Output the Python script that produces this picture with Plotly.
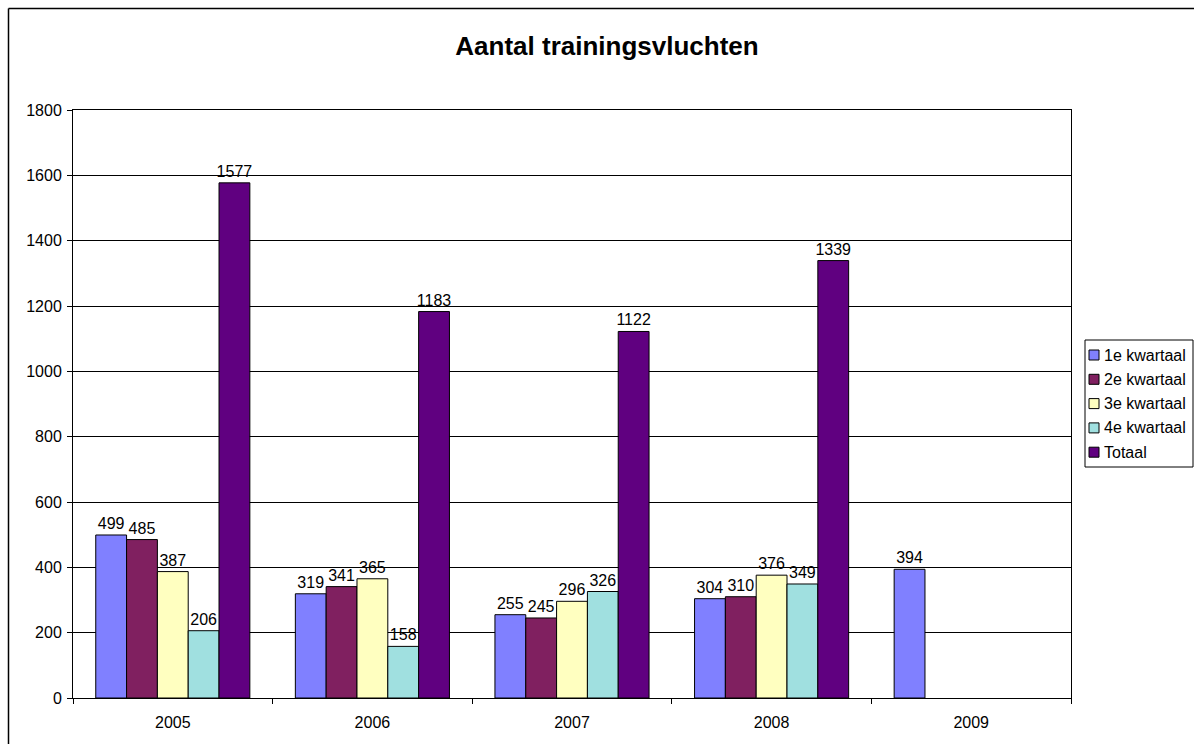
import plotly.graph_objects as go

years = ["2005", "2006", "2007", "2008", "2009"]
q1 = [499, 319, 255, 304, 394]
q2 = [485, 341, 245, 310, None]
q3 = [387, 365, 296, 376, None]
q4 = [206, 158, 326, 349, None]
totaal = [1577, 1183, 1122, 1339, None]

series = [
    ("1e kwartaal", q1, "#8080FF"),
    ("2e kwartaal", q2, "#802060"),
    ("3e kwartaal", q3, "#FFFFC0"),
    ("4e kwartaal", q4, "#A0E0E0"),
    ("Totaal", totaal, "#600080"),
]

FONT = "Liberation Sans, Arial"
W, H = 1194, 744
L, R, T, B = 73, 1071, 110, 698
pw, ph = R - L, B - T


def px(x):
    return (x - L) / pw


def py(y):
    return (B - y) / ph


fig = go.Figure()
for i, (name, vals, col) in enumerate(series):
    fig.add_trace(go.Bar(
        x=years, y=vals, name=name, showlegend=False,
        marker=dict(color=col, line=dict(color="black", width=1)),
        texttemplate="%{y}", textposition="outside", constraintext="none",
        textfont=dict(size=16, color="black", family=FONT),
        cliponaxis=False, hoverinfo="skip",
    ))

shapes = [
    # outer chart-area border (left and top visible)
    dict(type="line", xref="paper", yref="paper", x0=px(8.5), x1=px(1250),
         y0=py(8.5), y1=py(8.5), line=dict(color="black", width=1.5)),
    dict(type="line", xref="paper", yref="paper", x0=px(8.5), x1=px(8.5),
         y0=py(8.5), y1=py(800), line=dict(color="black", width=1.5)),
    # legend box
    dict(type="rect", xref="paper", yref="paper", x0=px(1085), x1=px(1193),
         y0=py(467), y1=py(340), line=dict(color="black", width=1),
         fillcolor="white"),
]
annotations = []
row0, step = 355, 24.3
for i, (name, vals, col) in enumerate(series):
    yc = row0 + i * step
    shapes.append(dict(type="rect", xref="paper", yref="paper",
                       x0=px(1089), x1=px(1099), y0=py(yc + 5), y1=py(yc - 5),
                       line=dict(color="black", width=1), fillcolor=col))
    annotations.append(dict(xref="paper", yref="paper", x=px(1102), y=py(yc),
                            xanchor="left", yanchor="middle", showarrow=False,
                            text=name, font=dict(size=16, color="black", family=FONT)))

fig.update_layout(
    width=W, height=H,
    margin=dict(l=L, r=W - R, t=T, b=H - B),
    paper_bgcolor="white", plot_bgcolor="white",
    barmode="group", bargap=0.228, bargroupgap=0,
    font=dict(family=FONT, size=16, color="black"),
    title=dict(text="<b>Aantal trainingsvluchten</b>", x=607 / W, xanchor="center",
               y=1 - 46 / H, yanchor="middle",
               font=dict(size=26, color="black", family=FONT)),
    showlegend=False,
    hovermode=False,
    shapes=shapes,
    annotations=annotations,
)
fig.update_xaxes(type="category", showline=True, linecolor="black", linewidth=1,
                 mirror=True, ticks="outside", tickson="boundaries", ticklen=5,
                 tickcolor="black", showgrid=False, tickfont=dict(size=16),
                 ticklabelstandoff=10)
fig.update_yaxes(range=[0, 1800], dtick=200, showline=True, linecolor="black",
                 linewidth=1, mirror=True, ticks="outside", ticklen=5,
                 tickcolor="black", showgrid=True, gridcolor="black", gridwidth=1,
                 zeroline=False, tickfont=dict(size=16), ticklabelstandoff=2)

fig.write_html("out.html", config={"displayModeBar": False},
               post_script="document.body.style.margin='0';document.body.style.overflow='hidden';")
